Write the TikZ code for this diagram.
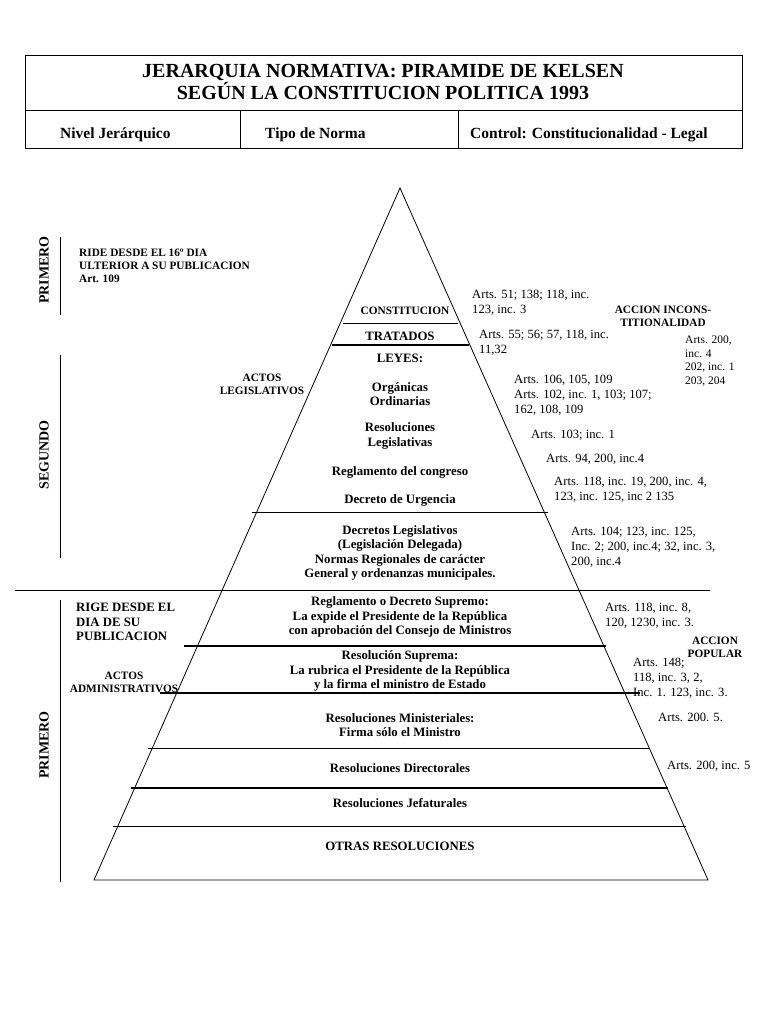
\documentclass[tikz,border=0pt]{standalone}
\usepackage{fontspec}
\setmainfont{Liberation Serif}
\begin{document}
\begin{tikzpicture}[x=1pt,y=-1pt,
  lbl/.style={font=\fontsize{12.8}{14.5}\selectfont\bfseries,align=center,inner sep=0},
  sml/.style={font=\fontsize{11.3}{13}\selectfont\bfseries,align=center,inner sep=0},
  art/.style={font=\fontsize{12.6}{15}\selectfont,align=left,anchor=north west,inner sep=0},
  hd/.style={font=\fontsize{15.5}{17}\selectfont\bfseries,anchor=west,inner sep=0},
  thk/.style={line width=1.6pt},
  thn/.style={line width=0.8pt}]
\useasboundingbox (0,0) rectangle (768,1024);
% header
\draw[thn] (25,55) rectangle (742,148);
\draw[thn] (25,110) -- (742,110);
\draw[thn] (240,110) -- (240,148);
\draw[thn] (458,110) -- (458,148);
\node[font=\fontsize{20}{22}\selectfont\bfseries,align=center] (title) at (383,82) {JERARQUIA NORMATIVA: PIRAMIDE DE KELSEN\\SEGÚN LA CONSTITUCION POLITICA 1993};
\node[hd] (h1) at (60,135) {Nivel Jerárquico};
\node[hd] (h2) at (265,135) {Tipo de Norma};
\node[hd] (h3) at (470,135) {Control: Constitucionalidad - Legal};
% pyramid
\coordinate (apex) at (400,188);
\coordinate (bl) at (94,880);
\coordinate (br) at (708,880);
\draw[thn] (bl) -- (apex) -- (br) -- cycle;
\draw[thn] (343,323) -- (458,323);
\draw[thk] (332,345) -- (469,345);
\draw[thn] (252,512) -- (548,512);
\draw[thn] (15,590) -- (710,590);
\draw[thk] (184,646) -- (606,646);
\draw[thk] (160,693) -- (640,693);
\draw[thn] (148,748) -- (650,748);
\draw[thk] (131,788) -- (668,788);
\draw[thn] (113,826) -- (686,826);
% pyramid labels
\node[sml] (c1) at (405,311) {CONSTITUCION};
\node[lbl] (c2) at (400,336) {TRATADOS};
\node[lbl] (c3) at (400,358) {LEYES:};
\node[lbl] (c4) at (400,394) {Orgánicas\\Ordinarias};
\node[lbl] (c5) at (400,436) {Resoluciones\\Legislativas};
\node[lbl] (c6) at (400,472) {Reglamento del congreso};
\node[lbl] (c7) at (400,500) {Decreto de Urgencia};
\node[lbl] (c8) at (400,553) {Decretos Legislativos\\(Legislación Delegada)\\Normas Regionales de carácter\\General y ordenanzas municipales.};
\node[lbl] (c9) at (400,617) {Reglamento o Decreto Supremo:\\La expide el Presidente de la República\\con aprobación del Consejo de Ministros};
\node[lbl] (c10) at (400,671) {Resolución Suprema:\\La rubrica el Presidente de la República\\y la firma el ministro de Estado};
\node[lbl] (c11) at (400,725) {Resoluciones Ministeriales:\\Firma sólo el Ministro};
\node[lbl] (c12) at (400,768) {Resoluciones Directorales};
\node[lbl] (c13) at (400,803) {Resoluciones Jefaturales};
\node[lbl] (c14) at (400,846) {OTRAS RESOLUCIONES};
% article refs
\node[art] (a1) at (472,290) {Arts. 51; 138; 118, inc.\\123, inc. 3};
\node[art] (a2) at (479,330) {Arts. 55; 56; 57, 118, inc.\\11,32};
\node[art] (a3) at (514,375) {Arts. 106, 105, 109\\Arts. 102, inc. 1, 103; 107;\\162, 108, 109};
\node[art] (a4) at (531,430) {Arts. 103; inc. 1};
\node[art] (a5) at (546,454) {Arts. 94, 200, inc.4};
\node[art] (a6) at (554,477) {Arts. 118, inc. 19, 200, inc. 4,\\123, inc. 125, inc 2 135};
\node[art] (a7) at (571,527) {Arts. 104; 123, inc. 125,\\Inc. 2; 200, inc.4; 32, inc. 3,\\200, inc.4};
\node[art] (a8) at (605,603) {Arts. 118, inc. 8,\\120, 1230, inc. 3.};
\node[art] (a9) at (633,658) {Arts. 148;\\118, inc. 3, 2,\\Inc. 1. 123, inc. 3.};
\node[art] (a10) at (658,713) {Arts. 200. 5.};
\node[art] (a11) at (667,761) {Arts. 200, inc. 5};
\node[art,font=\fontsize{11.5}{13.5}\selectfont] (a12) at (685,336) {Arts. 200,\\inc. 4\\202, inc. 1\\203, 204};
\node[sml] (ac1) at (663,316) {ACCION INCONS-\\TITIONALIDAD};
\node[sml] (ac2) at (715,647) {ACCION\\POPULAR};
% left side
\draw[thn] (60,237) -- (60,315);
\draw[thn] (60,355) -- (60,558);
\draw[thn] (60,600) -- (60,882);
\node[lbl,font=\fontsize{14}{16}\selectfont\bfseries,rotate=90] (p1) at (44,270) {PRIMERO};
\node[lbl,font=\fontsize{14}{16}\selectfont\bfseries,rotate=90] (s1) at (44,455) {SEGUNDO};
\node[lbl,font=\fontsize{14}{16}\selectfont\bfseries,rotate=90] (p2) at (44,745) {PRIMERO};
\node[sml,align=left,anchor=north west] (r1) at (79,249) {RIDE DESDE EL 16º DIA\\ULTERIOR A SU PUBLICACION\\Art. 109};
\node[lbl,align=left,anchor=north west] (r2) at (76,603) {RIGE DESDE EL\\DIA DE SU\\PUBLICACION};
\node[sml] (al) at (262,384) {ACTOS\\LEGISLATIVOS};
\node[sml] (aa) at (124,682) {ACTOS\\ADMINISTRATIVOS};
\end{tikzpicture}
\end{document}
